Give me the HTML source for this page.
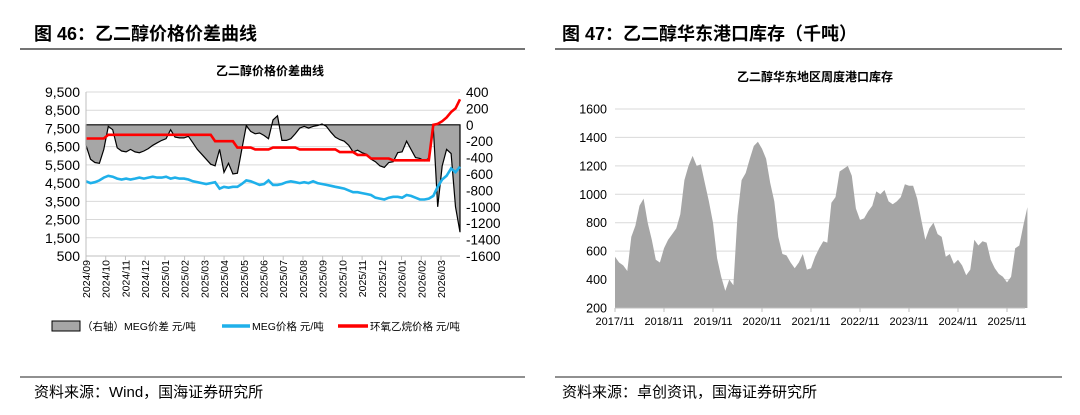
<!DOCTYPE html>
<html><head><meta charset="utf-8"><style>
body{margin:0;width:1080px;height:415px;background:#fff;overflow:hidden;font-family:"Liberation Sans","Noto Sans CJK SC",sans-serif}
svg{position:absolute;left:0;top:0}
</style></head><body>
<svg width="1080" height="415" id="s">
<g>
<text x="34" y="40" font-size="18" font-weight="bold" font-family="Liberation Sans,Noto Sans CJK SC,sans-serif">图 46：乙二醇价格价差曲线</text>
<line x1="20" y1="49" x2="525" y2="49" stroke="#222" stroke-width="1.2"/>
</g>
<g>
<text x="562" y="40" font-size="18" font-weight="bold" font-family="Liberation Sans,Noto Sans CJK SC,sans-serif">图 47：乙二醇华东港口库存（千吨）</text>
<line x1="555" y1="49" x2="1062" y2="49" stroke="#222" stroke-width="1.2"/>
</g>
<line x1="20" y1="377" x2="525" y2="377" stroke="#222" stroke-width="1"/>
<line x1="555" y1="377" x2="1062" y2="377" stroke="#222" stroke-width="1"/>
<text x="34" y="397" font-size="15">资料来源：Wind，国海证券研究所</text>
<text x="562" y="397" font-size="15">资料来源：卓创资讯，国海证券研究所</text>
<text x="270" y="75" font-size="12" font-weight="bold" text-anchor="middle">乙二醇价格价差曲线</text>
<text x="815" y="81" font-size="12" font-weight="bold" text-anchor="middle">乙二醇华东地区周度港口库存</text>
<g id="c1"></g>
<g id="c2"></g>
<g>
<rect x="52" y="321" width="28" height="10" fill="#a6a6a6" stroke="#000"/>
<text x="82" y="330" font-size="10.5">（右轴）MEG价差 元/吨</text>
<line x1="222" y1="326" x2="250" y2="326" stroke="#1fb0ea" stroke-width="3.5"/>
<text x="252" y="330" font-size="10.5">MEG价格 元/吨</text>
<line x1="338" y1="326" x2="368" y2="326" stroke="#f00" stroke-width="3.5"/>
<text x="370" y="330" font-size="10.5">环氧乙烷价格 元/吨</text>
</g>
</svg>
<script>
const spread=[-250,-420,-460,-470,-300,-20,-60,-280,-320,-330,-300,-330,-340,-320,-290,-250,-220,-190,-170,-60,-150,-160,-160,-140,-220,-300,-360,-420,-480,-500,-300,-580,-470,-600,-590,-300,-10,-80,-110,-100,-130,-170,60,110,-190,-190,-170,-110,-40,-20,-40,-20,-10,10,-20,-90,-150,-180,-200,-250,-330,-310,-340,-360,-420,-450,-500,-520,-460,-450,-340,-330,-200,-300,-400,-410,-440,-410,-30,-1000,-500,-300,-350,-1000,-1310];
const meg=[4600,4500,4550,4650,4800,4900,4850,4750,4700,4750,4700,4750,4800,4750,4800,4850,4800,4800,4850,4750,4800,4750,4750,4700,4600,4550,4500,4450,4500,4550,4200,4300,4250,4300,4300,4450,4650,4600,4500,4400,4450,4650,4400,4400,4450,4550,4600,4550,4500,4550,4500,4600,4500,4450,4400,4350,4300,4250,4200,4100,4000,4000,3950,3900,3850,3700,3650,3600,3700,3750,3750,3700,3850,3800,3700,3600,3600,3650,3800,4300,4700,4900,5300,5100,5400];
const eo=[6950,6950,6950,6950,6950,7150,7150,7150,7150,7150,7150,7150,7150,7150,7150,7150,7150,7150,7150,7150,7150,7150,7150,7150,7150,7150,7150,7150,7150,6800,6800,6800,6800,6800,6450,6450,6450,6450,6350,6350,6350,6350,6450,6450,6450,6450,6450,6450,6350,6350,6350,6350,6350,6350,6350,6350,6350,6200,6200,6200,6200,6050,6050,6050,5850,5850,5850,5850,5850,5750,5750,5750,5750,5750,5750,5750,5750,5750,7700,7750,7900,8100,8400,8600,9100];
const monthLabels=["2024/09","2024/10","2024/11","2024/12","2025/01","2025/02","2025/03","2025/04","2025/05","2025/06","2025/07","2025/08","2025/09","2025/10","2025/11","2025/12","2026/01","2026/02","2026/03"];
const leftTicks=[9500,8500,7500,6500,5500,4500,3500,2500,1500,500];
const rightTicks=[400,200,0,-200,-400,-600,-800,-1000,-1200,-1400,-1600];
const inv=[560,520,500,460,700,780,920,970,800,680,540,520,620,680,720,760,860,1100,1200,1270,1200,1210,1080,950,800,550,420,320,400,360,850,1100,1150,1250,1340,1370,1320,1250,1080,950,700,580,570,520,480,520,580,470,480,560,620,670,660,940,980,1160,1180,1200,1130,900,820,830,880,920,1020,1000,1030,950,930,950,980,1070,1060,1060,970,820,680,760,800,720,700,560,580,510,540,500,430,470,680,640,670,660,540,480,440,420,380,420,620,640,780,910];
const invTicks=[1600,1400,1200,1000,800,600,400,200];
const yearLabels=["2017/11","2018/11","2019/11","2020/11","2021/11","2022/11","2023/11","2024/11","2025/11"];
const NS="http://www.w3.org/2000/svg";
function mk(p,t,a){const e=document.createElementNS(NS,t);for(const k in a)e.setAttribute(k,a[k]);p.appendChild(e);return e;}
const c1=document.getElementById('c1');
const X0=86,X1=460,YT=92,YB=256;
const yL=v=>YB-(v-500)/9000*(YB-YT);
const yR=v=>YB-(v+1600)/2000*(YB-YT);
const xW=i=>X0+i*(X1-X0)/(spread.length-1);
const xM=i=>X0+i*(441-X0)/18;
leftTicks.forEach(v=>{
 const g=mk(c1,'line',{x1:X0,x2:X1,y1:yL(v),y2:yL(v),stroke:'#d9d9d9','stroke-width':1});
 
 
 const t=mk(c1,'text',{x:X0-6,y:yL(v)+5,'font-size':14,'text-anchor':'end'});t.textContent=v.toLocaleString('en-US');
 
 
});
rightTicks.forEach(v=>{
 const t=mk(c1,'text',{x:X1+6,y:yR(v)+5,'font-size':13.5});t.textContent=v;
 
 
});
let d='M'+X0+','+yR(0);
spread.forEach((v,i)=>d+=' L'+xW(i).toFixed(1)+','+yR(v).toFixed(1));
d+=' L'+X1+','+yR(0)+'Z';
const ar=mk(c1,'path',{d:d,fill:'#a6a6a6',stroke:'#000','stroke-width':1.2});


function line(arr,col,name){const p=mk(c1,'polyline',{points:arr.map((v,i)=>xW(i).toFixed(1)+','+yL(v).toFixed(1)).join(' '),fill:'none',stroke:col,'stroke-width':2.6});
 
 }
line(meg,'#1fb0ea','meg-price-line');
line(eo,'#f00','eo-price-line');
mk(c1,'line',{x1:X0,x2:X0,y1:YT,y2:YB,stroke:'#bfbfbf'});
mk(c1,'line',{x1:X0,x2:X1,y1:YB,y2:YB,stroke:'#bfbfbf'});
monthLabels.forEach((m,i)=>{
 const x=xM(i);
 mk(c1,'line',{x1:x,x2:x,y1:YB,y2:YB+4,stroke:'#bfbfbf'});
 const t=mk(c1,'text',{x:0,y:0,'font-size':10.5,'text-anchor':'end',transform:`translate(${x+4},${YB+4}) rotate(-90)`});t.textContent=m;
 
 
});
const c2=document.getElementById('c2');
const A0=615,AT=109,AB=308,step=49/12;
const yI=v=>AB-(v-200)/1400*(AB-AT);
const xI=i=>A0+i*step;
invTicks.forEach(v=>{
 const g=mk(c2,'line',{x1:A0,x2:1025,y1:yI(v),y2:yI(v),stroke:'#d9d9d9'});
 
 
 const t=mk(c2,'text',{x:607,y:yI(v)+4.5,'font-size':12.5,'text-anchor':'end'});t.textContent=v;
 
 
});
let d2='M'+A0+','+AB;
inv.forEach((v,i)=>d2+=' L'+xI(i).toFixed(1)+','+yI(v).toFixed(1));
d2+=' L'+xI(inv.length-1).toFixed(1)+','+AB+'Z';
const a2=mk(c2,'path',{d:d2,fill:'#a6a6a6'});


mk(c2,'line',{x1:A0,x2:1025,y1:AB,y2:AB,stroke:'#bfbfbf'});
yearLabels.forEach((m,i)=>{
 const x=xI(i*12);
 mk(c2,'line',{x1:x,x2:x,y1:AB,y2:AB+4,stroke:'#bfbfbf'});
 const t=mk(c2,'text',{x:x,y:AB+17,'font-size':11,'text-anchor':'middle'});t.textContent=m;
 
 
});
</script>
</body></html>
